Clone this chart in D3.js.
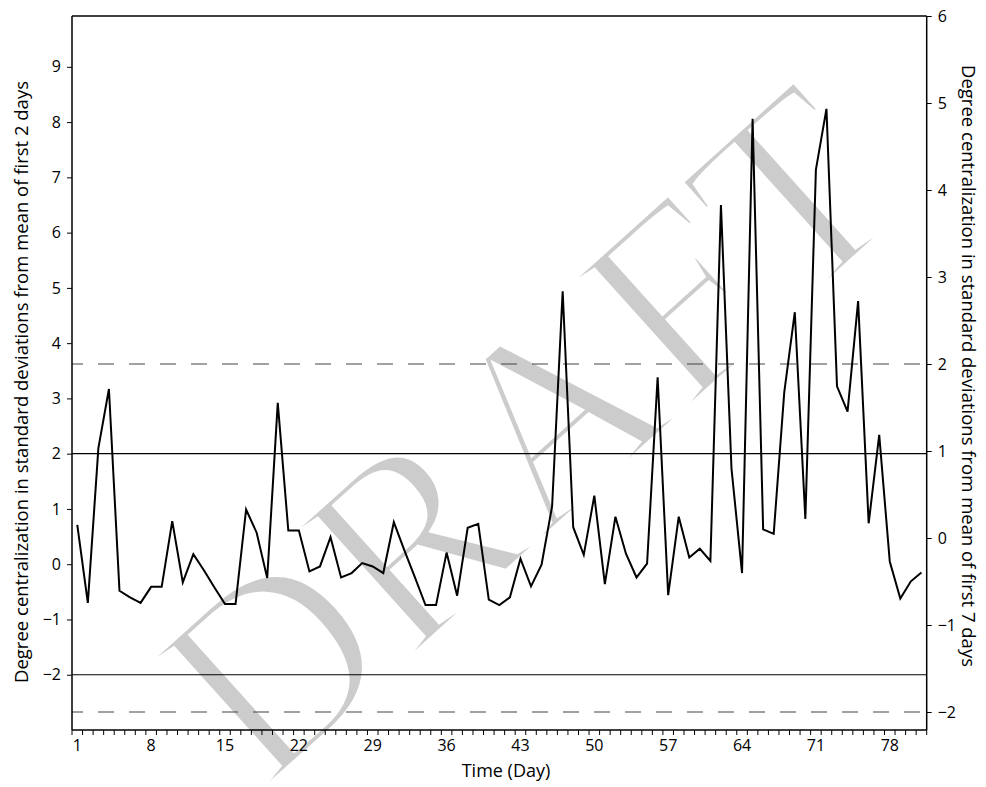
<!DOCTYPE html>
<html>
<head>
<meta charset="utf-8">
<script src="https://cdn.jsdelivr.net/npm/d3@7"></script>
<style>
  body { margin: 0; background: #fff; }
  text { font-family: "Open Sans", sans-serif; }
</style>
</head>
<body>
<script>
// day numbers on the category axis
var days = d3.range(1, 82)
var xLabels = [1, 8, 15, 22, 29, 36, 43, 50, 57, 64, 71, 78]

// degree centralization, sd from mean of first 2 days (left axis)
var values = [0.71, -0.70, 2.10, 3.17, -0.48, -0.60, -0.70, -0.41, -0.41, 0.78,
  -0.33, 0.18, -0.11, -0.42, -0.72, -0.72, 0.99, 0.57, -0.25, 2.92,
  0.61, 0.61, -0.13, -0.04, 0.49, -0.24, -0.16, 0.02, -0.04, -0.16,
  0.76, 0.25, -0.24, -0.74, -0.74, 0.21, -0.57, 0.66, 0.73, -0.64,
  -0.74, -0.60, 0.10, -0.40, -0.01, 1.05, 4.94, 0.67, 0.17, 1.24,
  -0.36, 0.86, 0.19, -0.24, 0.01, 3.38, -0.56, 0.86, 0.12, 0.28,
  0.06, 6.50, 1.73, -0.16, 8.06, 0.63, 0.55, 3.11, 4.56, 0.82,
  7.14, 8.24, 3.22, 2.76, 4.76, 0.74, 2.34, 0.05, -0.62, -0.31, -0.15]

var leftTicks = [-2, -1, 0, 1, 2, 3, 4, 5, 6, 7, 8, 9]
var rightTicks = [-2, -1, 0, 1, 2, 3, 4, 5, 6]
var leftLimits = [-2, 2]   // solid lines, left axis
var rightLimits = [-2, 2]  // dashed lines, right axis

var plotLeft = 72, plotRight = 926.7, plotTop = 16, plotBottom = 730

var svg = d3.select("body").append("svg")
  .attr("width", 986)
  .attr("height", 787)

var x = d3.scaleBand()
  .domain(days)
  .range([plotLeft, plotRight])

var y = d3.scaleLinear()
  .domain([-3, 9.92])
  .range([plotBottom, plotTop])

// right axis: 87px per unit, 6 at the top
var y2 = d3.scaleLinear()
  .domain([6 - (plotBottom - plotTop) / 87, 6])
  .range([plotBottom, plotTop])

// watermark (white outline thins the glyphs a bit)
svg.append("text")
  .attr("transform", "translate(588,500) rotate(-42)")
  .attr("text-anchor", "middle")
  .style("font-family", "'Liberation Serif', 'DejaVu Serif', serif")
  .style("font-size", "268px")
  .attr("fill", "#cccccc")
  .attr("stroke", "#fff")
  .attr("stroke-width", 8)
  .text("DRAFT")

// limit lines
leftLimits.forEach(function (v) {
  svg.append("line")
    .attr("x1", plotLeft).attr("x2", plotRight)
    .attr("y1", y(v)).attr("y2", y(v))
    .attr("stroke", "#000")
    .attr("stroke-width", 1.2)
})
rightLimits.forEach(function (v) {
  svg.append("line")
    .attr("x1", plotLeft).attr("x2", plotRight)
    .attr("y1", y2(v)).attr("y2", y2(v))
    .attr("stroke", "#444")
    .attr("stroke-width", 1.2)
    .attr("stroke-dasharray", "16,15")
    .attr("stroke-dashoffset", 5)
})

// frame top
svg.append("line")
  .attr("x1", plotLeft).attr("x2", plotRight)
  .attr("y1", plotTop).attr("y2", plotTop)
  .attr("stroke", "#000")
  .attr("stroke-width", 1.5)

// axes
var xAxis = svg.append("g")
  .attr("transform", "translate(0," + plotBottom + ")")
  .call(d3.axisBottom(x).tickSize(0).tickFormat(function (d) {
    return xLabels.indexOf(d) >= 0 ? d : ""
  }))
xAxis.select(".domain").attr("d", "M" + plotLeft + ",0H" + plotRight).attr("stroke-width", 1.5)
xAxis.selectAll("text").attr("y", 21).attr("dy", 0).style("font-size", "16px")
// minor ticks at band edges
xAxis.selectAll("line.edge")
  .data(days.concat([82]))
  .enter().append("line")
  .attr("class", "edge")
  .attr("x1", function (d) { return d == 82 ? plotRight : x(d) })
  .attr("x2", function (d) { return d == 82 ? plotRight : x(d) })
  .attr("y1", 0).attr("y2", 5)
  .attr("stroke", "#000")

var yAxis = svg.append("g")
  .attr("transform", "translate(" + plotLeft + ",0)")
  .call(d3.axisLeft(y).tickValues(leftTicks).tickSize(5).tickPadding(6))
yAxis.select(".domain").attr("d", "M0," + plotBottom + "V" + plotTop).attr("stroke-width", 1.5)
yAxis.selectAll("text").style("font-size", "16px")

var y2Axis = svg.append("g")
  .attr("transform", "translate(" + plotRight + ",0)")
  .call(d3.axisRight(y2).tickValues(rightTicks).tickSize(5).tickPadding(6))
y2Axis.select(".domain").attr("d", "M0," + plotBottom + "V" + plotTop).attr("stroke-width", 1.5)
y2Axis.selectAll("text").style("font-size", "16px")

svg.selectAll(".tick text").attr("fill", "#000")

// data line
var line = d3.line()
  .x(function (d, i) { return x(days[i]) + x.bandwidth() / 2 })
  .y(function (d) { return y(d) })

svg.append("path")
  .datum(values)
  .attr("d", line)
  .attr("fill", "none")
  .attr("stroke", "#000")
  .attr("stroke-width", 2)

// titles
svg.append("text")
  .attr("transform", "translate(27.5,382) rotate(-90)")
  .attr("text-anchor", "middle")
  .style("font-size", "18.5px")
  .text("Degree centralization in standard deviations from mean of first 2 days")

svg.append("text")
  .attr("transform", "translate(962,366) rotate(90)")
  .attr("text-anchor", "middle")
  .style("font-size", "18.5px")
  .text("Degree centralization in standard deviations from mean of first 7 days")

svg.append("text")
  .attr("x", 506)
  .attr("y", 777)
  .attr("text-anchor", "middle")
  .style("font-size", "18px")
  .text("Time (Day)")
</script>
</body>
</html>
